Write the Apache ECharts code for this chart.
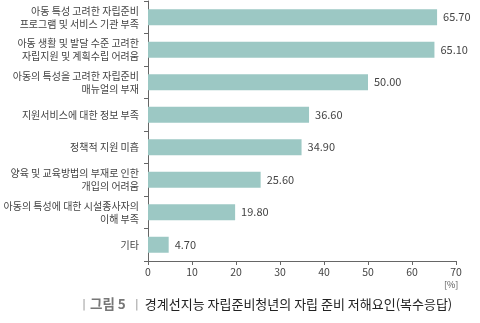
<!DOCTYPE html>
<html><head><meta charset="utf-8">
<script src="https://cdn.jsdelivr.net/npm/echarts@6/dist/echarts.min.js"></script>
<style>html,body{margin:0;padding:0;background:#fff}#c{width:480px;height:323px}</style>
</head><body><div id="c"></div>
<script>
const categories = [
  '아동 특성 고려한 자립준비\n프로그램 및 서비스 기관 부족',
  '아동 생활 및 발달 수준 고려한\n자립지원 및 계획수립 어려움',
  '아동의 특성을 고려한 자립준비\n매뉴얼의 부재',
  '지원서비스에 대한 정보 부족',
  '정책적 지원 미흡',
  '양육 및 교육방법의 부재로 인한\n개입의 어려움',
  '아동의 특성에 대한 시설종사자의\n이해 부족',
  '기타'
];
const values = [65.7, 65.1, 50.0, 36.6, 34.9, 25.6, 19.8, 4.7];
const xTicks = [0, 10, 20, 30, 40, 50, 60, 70];

const chart = echarts.init(document.getElementById('c'), null, {renderer: 'canvas'});
const font = '"Noto Sans CJK KR", "Noto Sans", sans-serif';
chart.setOption({
  animation: false,
  grid: {left: 148, right: 24, top: 1, bottom: 62},
  xAxis: {
    type: 'value', min: 0, max: 70, interval: 10,
    axisLine: {show: true, lineStyle: {color: '#666', width: 1}},
    axisTick: {show: true, length: 4, lineStyle: {color: '#666'}},
    splitLine: {show: false},
    axisLabel: {color: '#444', fontSize: 10.5, fontFamily: font, margin: 6,
      formatter: v => xTicks.includes(v) ? String(v) : ''}
  },
  yAxis: {
    type: 'category', inverse: true, data: categories,
    axisLine: {show: true, lineStyle: {color: '#666', width: 1}},
    axisTick: {show: true, length: 4, lineStyle: {color: '#666'}},
    axisLabel: {color: '#444', fontSize: 10, fontFamily: font, lineHeight: 13, margin: 9, align: 'right'}
  },
  series: [{
    type: 'bar', data: values, barWidth: 16,
    itemStyle: {color: '#9cc8c4'},
    label: {show: true, position: 'right', distance: 6, color: '#444', fontSize: 11, fontFamily: font,
      formatter: p => p.value.toFixed(2)}
  }],
  graphic: [
    {type: 'text', left: 444, top: 280, style: {text: '[%]', fill: '#555', fontSize: 9, fontFamily: font}},
    {type: 'text', left: 78, top: 297, style: {
      text: '{bar|ㅣ}{fig|그림 5}{bar2|ㅣ}{t|경계선지능 자립준비청년의 자립 준비 저해요인(복수응답)}',
      rich: {
        bar: {fill: '#aaa', fontSize: 13, fontFamily: font},
        bar2: {fill: '#aaa', fontSize: 13, fontFamily: font, padding: [0,0,0,5]},
        fig: {fill: '#777', fontSize: 13.5, fontWeight: 'bold', fontFamily: font},
        t: {fill: '#222', fontSize: 13, fontFamily: font, padding: [0,0,0,2]}
      }
    }}
  ]
});
</script></body></html>
